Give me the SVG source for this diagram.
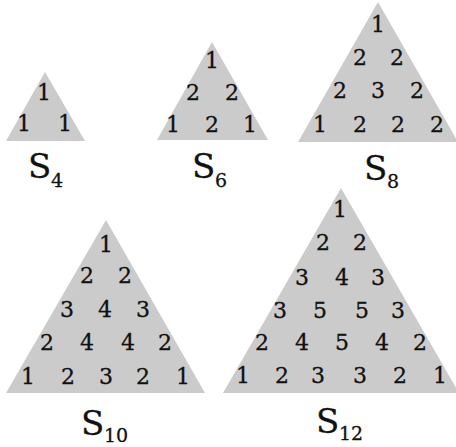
<svg xmlns="http://www.w3.org/2000/svg" width="456" height="447" viewBox="0 0 456 447">
<style>
.tri{fill:#cbcbcb;stroke:none}
text{font-family:'DejaVu Serif',serif;fill:#111;stroke:#111;stroke-width:0.3}
.n{font-size:22px;text-anchor:middle}
.lab{font-size:34px}
.sub{font-size:19px}
</style>
<rect width="456" height="447" fill="#fff"/>
<g id="S4">
<polygon class="tri" points="45,72 6,141 85,141"/>
<text class="n" x="44" y="100">1</text>
<text class="n" x="24" y="131">1</text><text class="n" x="65" y="131">1</text>
<text class="lab" x="28" y="178">S</text><text class="sub" x="51" y="187">4</text>
</g>
<g id="S6">
<polygon class="tri" points="212,42 157,140 268,140"/>
<text class="n" x="212" y="68">1</text>
<text class="n" x="193" y="100">2</text><text class="n" x="232" y="100">2</text>
<text class="n" x="173" y="132">1</text><text class="n" x="212" y="132">2</text><text class="n" x="250" y="132">1</text>
<text class="lab" x="192" y="178">S</text><text class="sub" x="215" y="187">6</text>
</g>
<g id="S8">
<polygon class="tri" points="378,2 298,142 458,142"/>
<text class="n" x="378" y="32">1</text>
<text class="n" x="360" y="65">2</text><text class="n" x="397" y="65">2</text>
<text class="n" x="340" y="98">2</text><text class="n" x="378" y="98">3</text><text class="n" x="417" y="98">2</text>
<text class="n" x="320" y="132">1</text><text class="n" x="360" y="132">2</text><text class="n" x="398" y="132">2</text><text class="n" x="437" y="132">2</text>
<text class="lab" x="364" y="180">S</text><text class="sub" x="387" y="188">8</text>
</g>
<g id="S10">
<polygon class="tri" points="106,220 6,393 205,393"/>
<text class="n" x="106" y="252">1</text>
<text class="n" x="87" y="283">2</text><text class="n" x="125" y="283">2</text>
<text class="n" x="67" y="317">3</text><text class="n" x="105" y="317">4</text><text class="n" x="143" y="317">3</text>
<text class="n" x="47" y="350">2</text><text class="n" x="87" y="350">4</text><text class="n" x="128" y="350">4</text><text class="n" x="165" y="350">2</text>
<text class="n" x="28" y="384">1</text><text class="n" x="68" y="384">2</text><text class="n" x="106" y="384">3</text><text class="n" x="143" y="384">2</text><text class="n" x="183" y="384">1</text>
<text class="lab" x="81" y="435">S</text><text class="sub" x="104" y="442">10</text>
</g>
<g id="S12">
<polygon class="tri" points="341,188 223,393 459,393"/>
<text class="n" x="340" y="217">1</text>
<text class="n" x="323" y="250">2</text><text class="n" x="360" y="250">2</text>
<text class="n" x="302" y="285">3</text><text class="n" x="342" y="285">4</text><text class="n" x="378" y="285">3</text>
<text class="n" x="280" y="318">3</text><text class="n" x="320" y="318">5</text><text class="n" x="362" y="318">5</text><text class="n" x="398" y="318">3</text>
<text class="n" x="262" y="350">2</text><text class="n" x="302" y="350">4</text><text class="n" x="342" y="350">5</text><text class="n" x="382" y="350">4</text><text class="n" x="420" y="350">2</text>
<text class="n" x="243" y="383">1</text><text class="n" x="282" y="383">2</text><text class="n" x="318" y="383">3</text><text class="n" x="360" y="383">3</text><text class="n" x="400" y="383">2</text><text class="n" x="440" y="383">1</text>
<text class="lab" x="316" y="433">S</text><text class="sub" x="339" y="440">12</text>
</g>
</svg>
